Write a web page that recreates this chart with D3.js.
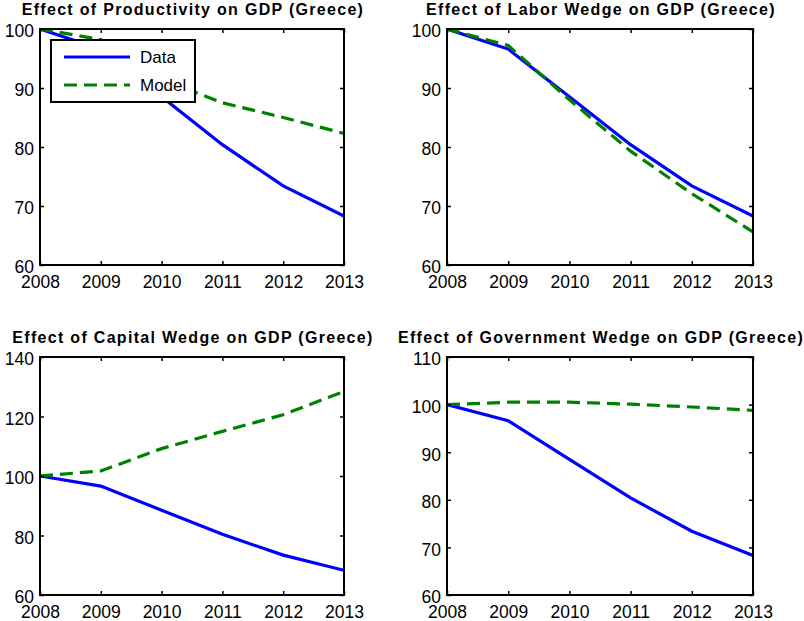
<!DOCTYPE html>
<html>
<head>
<meta charset="utf-8">
<script src="https://cdn.jsdelivr.net/npm/d3@7"></script>
<style>
  html, body { margin: 0; padding: 0; background: #fff; }
  svg { display: block; font-family: "Liberation Sans", Arial, sans-serif; }
</style>
</head>
<body>
<svg id="chart" width="804" height="621"></svg>
<script>
const years = [2008, 2009, 2010, 2011, 2012, 2013];
const dataSeries = [100, 96.6, 88.5, 80.4, 73.4, 68.3];
const modelProductivity = [100, 98.2, 91.5, 87.5, 85.0, 82.3];
const modelLabor = [100, 97.2, 88.0, 79.3, 72.1, 65.6];
const modelCapital = [100, 101.7, 109.2, 115.0, 120.6, 128.4];
const modelGovernment = [100, 100.5, 100.5, 100.1, 99.5, 98.8];
const titles = [
  "Effect of Productivity on GDP (Greece)",
  "Effect of Labor Wedge on GDP (Greece)",
  "Effect of Capital Wedge on GDP (Greece)",
  "Effect of Government Wedge on GDP (Greece)"
];
const yTicks1 = [60, 70, 80, 90, 100];
const yTicks2 = [60, 70, 80, 90, 100];
const yTicks3 = [60, 80, 100, 120, 140];
const yTicks4 = [60, 70, 80, 90, 100, 110];
const legendLabels = ["Data", "Model"];

const panels = [
  { title: titles[0], model: modelProductivity, ticks: yTicks1, x0: 40, x1: 344, y0: 29, y1: 265, legend: true },
  { title: titles[1], model: modelLabor, ticks: yTicks2, x0: 447, x1: 753, y0: 29, y1: 265 },
  { title: titles[2], model: modelCapital, ticks: yTicks3, x0: 40, x1: 344, y0: 357, y1: 595 },
  { title: titles[3], model: modelGovernment, ticks: yTicks4, x0: 447, x1: 753, y0: 357, y1: 595 }
];

const BLUE = "#0000ff", GREEN = "#008000";
const DASH = "13,7";
const svg = d3.select("#chart");

panels.forEach((p, i) => {
  const x = d3.scaleLinear().domain([years[0], years[years.length - 1]]).range([p.x0, p.x1]);
  const y = d3.scaleLinear().domain([p.ticks[0], p.ticks[p.ticks.length - 1]]).range([p.y1, p.y0]);
  const g = svg.append("g");
  const clipId = "clip" + i;
  g.append("clipPath").attr("id", clipId).append("rect")
    .attr("x", p.x0).attr("y", p.y0).attr("width", p.x1 - p.x0).attr("height", p.y1 - p.y0);

  const line = d3.line().x((d, j) => x(years[j])).y(d => y(d));
  const lines = g.append("g").attr("clip-path", `url(#${clipId})`);
  lines.append("path").datum(dataSeries).attr("d", line)
    .attr("fill", "none").attr("stroke", BLUE).attr("stroke-width", 3.2);
  lines.append("path").datum(p.model).attr("d", line)
    .attr("fill", "none").attr("stroke", GREEN).attr("stroke-width", 3.2)
    .attr("stroke-dasharray", DASH);

  const tickLen = 4;
  const bottom = g.append("g").attr("transform", `translate(0,${p.y1})`)
    .call(d3.axisBottom(x).tickValues(years).tickFormat(d3.format("d")).tickSizeInner(-tickLen).tickSizeOuter(0).tickPadding(11));
  const top = g.append("g").attr("transform", `translate(0,${p.y0})`)
    .call(d3.axisTop(x).tickValues(years).tickFormat("").tickSizeInner(-tickLen).tickSizeOuter(0));
  const left = g.append("g").attr("transform", `translate(${p.x0},0)`)
    .call(d3.axisLeft(y).tickValues(p.ticks).tickFormat(d3.format("d")).tickSizeInner(-tickLen).tickSizeOuter(0).tickPadding(6));
  const right = g.append("g").attr("transform", `translate(${p.x1},0)`)
    .call(d3.axisRight(y).tickValues(p.ticks).tickFormat("").tickSizeInner(-tickLen).tickSizeOuter(0));
  [bottom, top, left, right].forEach(a => {
    a.select(".domain").remove();
    a.selectAll(".tick line").attr("stroke", "#000").attr("stroke-width", 1.5);
    a.selectAll("text").attr("fill", "#000").style("font-size", "17.5px")
      .style("font-family", '"Liberation Sans", Arial, sans-serif');
  });
  left.selectAll("text").attr("dy", "0.45em");
  bottom.selectAll("text").attr("dy", "0.71em");

  g.append("rect").attr("x", p.x0).attr("y", p.y0)
    .attr("width", p.x1 - p.x0).attr("height", p.y1 - p.y0)
    .attr("fill", "none").attr("stroke", "#000").attr("stroke-width", 2);

  g.append("text").attr("x", (p.x0 + p.x1) / 2 + 1).attr("y", p.y0 - 14)
    .attr("text-anchor", "middle").attr("font-weight", "bold")
    .style("font-size", "16px").style("letter-spacing", "1.3px").attr("fill", "#000")
    .text(p.title);

  if (p.legend) {
    const lg = g.append("g");
    lg.append("rect").attr("x", 51).attr("y", 40).attr("width", 144).attr("height", 62)
      .attr("fill", "#fff").attr("stroke", "#000").attr("stroke-width", 2);
    const items = [{ c: BLUE, dash: null, yy: 57 }, { c: GREEN, dash: DASH, yy: 85 }];
    items.forEach((it, k) => {
      lg.append("line").attr("x1", 64).attr("x2", 130).attr("y1", it.yy).attr("y2", it.yy)
        .attr("stroke", it.c).attr("stroke-width", 3.2).attr("stroke-dasharray", it.dash);
      lg.append("text").attr("x", 140).attr("y", it.yy).attr("dy", "0.36em")
        .style("font-size", "17px").attr("fill", "#000").text(legendLabels[k]);
    });
  }
});
</script>
</body>
</html>
